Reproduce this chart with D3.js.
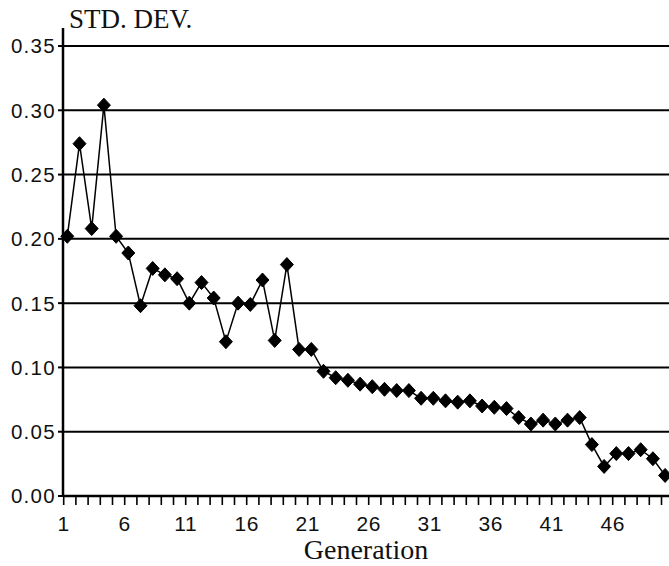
<!DOCTYPE html>
<html>
<head>
<meta charset="utf-8">
<script src="https://cdn.jsdelivr.net/npm/d3@7"></script>
<style>
  body { margin: 0; background: #fff; }
</style>
</head>
<body>
<div id="chart"></div>
<script>
var generations = d3.range(1, 51);
var std_dev = [
    0.202, 0.274, 0.208, 0.304, 0.202, 0.189, 0.148, 0.177, 0.172, 0.169,
    0.150, 0.166, 0.154, 0.120, 0.150, 0.149, 0.168, 0.121, 0.180, 0.114,
    0.114, 0.097, 0.092, 0.090, 0.087, 0.085, 0.083, 0.082, 0.082, 0.076,
    0.076, 0.074, 0.073, 0.074, 0.070, 0.069, 0.068, 0.061, 0.056, 0.059,
    0.056, 0.059, 0.061, 0.040, 0.023, 0.033, 0.033, 0.036, 0.029, 0.016
];
var y_ticks = [0, 0.05, 0.10, 0.15, 0.20, 0.25, 0.30, 0.35];
var x_labels = [1, 6, 11, 16, 21, 26, 31, 36, 41, 46];

var chart_width = 669;
var chart_height = 566;
var left = 63;
var bottom = 496;
var point_shift = 3.6;

var svg = d3.select('#chart')
    .append('svg')
    .attr('width', chart_width)
    .attr('height', chart_height);

// escalas
var x_scale = d3.scaleLinear()
    .domain([1, 50])
    .range([left + 0.7, left + 0.7 + 49 * 12.2]);

var y_scale = d3.scaleLinear()
    .domain([0, 0.35])
    .range([bottom, 46]);

// grade horizontal
svg.selectAll('line.grid')
    .data(y_ticks.slice(1))
    .enter()
    .append('line')
    .attr('class', 'grid')
    .attr('x1', left)
    .attr('x2', chart_width)
    .attr('y1', function (d) { return y_scale(d); })
    .attr('y2', function (d) { return y_scale(d); })
    .attr('stroke', '#000')
    .attr('stroke-width', 2);

// eixo y
svg.append('line')
    .attr('x1', left).attr('x2', left)
    .attr('y1', 28).attr('y2', bottom + 1)
    .attr('stroke', '#000')
    .attr('stroke-width', 2.5);

svg.selectAll('line.ytick')
    .data(y_ticks)
    .enter()
    .append('line')
    .attr('class', 'ytick')
    .attr('x1', left - 5).attr('x2', left)
    .attr('y1', function (d) { return y_scale(d); })
    .attr('y2', function (d) { return y_scale(d); })
    .attr('stroke', '#000')
    .attr('stroke-width', 2);

svg.selectAll('text.ylabel')
    .data(y_ticks)
    .enter()
    .append('text')
    .attr('class', 'ylabel')
    .text(function (d) { return d3.format('.2f')(d); })
    .attr('x', 56)
    .attr('y', function (d) { return y_scale(d); })
    .attr('dy', '0.36em')
    .attr('text-anchor', 'end')
    .attr('font-family', '"Liberation Sans", Arial, sans-serif')
    .attr('font-size', 20.5)
    .attr('letter-spacing', 1.3)
    .attr('fill', '#111');

// eixo x
svg.append('line')
    .attr('x1', left).attr('x2', chart_width)
    .attr('y1', bottom).attr('y2', bottom)
    .attr('stroke', '#000')
    .attr('stroke-width', 2.5);

svg.selectAll('line.xtick')
    .data(generations)
    .enter()
    .append('line')
    .attr('class', 'xtick')
    .attr('x1', function (d) { return x_scale(d); })
    .attr('x2', function (d) { return x_scale(d); })
    .attr('y1', bottom)
    .attr('y2', bottom + 9)
    .attr('stroke', '#000')
    .attr('stroke-width', 1.6);

svg.selectAll('text.xlabel')
    .data(x_labels)
    .enter()
    .append('text')
    .attr('class', 'xlabel')
    .text(function (d) { return d; })
    .attr('x', function (d) { return x_scale(d); })
    .attr('y', 531)
    .attr('text-anchor', 'middle')
    .attr('font-family', '"Liberation Sans", Arial, sans-serif')
    .attr('font-size', 21)
    .attr('letter-spacing', 0.5)
    .attr('fill', '#111');

// titulos
svg.append('text')
    .text('STD. DEV.')
    .attr('x', 69)
    .attr('y', 28)
    .attr('font-family', '"Liberation Serif", "Times New Roman", serif')
    .attr('font-size', 27)
    .attr('fill', '#111');

svg.append('text')
    .text('Generation')
    .attr('x', 366)
    .attr('y', 559)
    .attr('text-anchor', 'middle')
    .attr('font-family', '"Liberation Serif", "Times New Roman", serif')
    .attr('font-size', 28)
    .attr('fill', '#111');

// linha
var line = d3.line()
    .x(function (d, i) { return x_scale(generations[i]) + point_shift; })
    .y(function (d) { return y_scale(d); });

svg.append('path')
    .datum(std_dev)
    .attr('d', line)
    .attr('fill', 'none')
    .attr('stroke', '#000')
    .attr('stroke-width', 1.5);

// marcadores (losango)
var diamond = {
    draw: function (ctx, size) {
        var w = 6.5, h = 7;
        ctx.moveTo(0, -h);
        ctx.lineTo(w, 0);
        ctx.lineTo(0, h);
        ctx.lineTo(-w, 0);
        ctx.closePath();
    }
};

svg.selectAll('path.marker')
    .data(std_dev)
    .enter()
    .append('path')
    .attr('class', 'marker')
    .attr('d', d3.symbol().type(diamond))
    .attr('transform', function (d, i) {
        return 'translate(' + (x_scale(generations[i]) + point_shift) + ',' + y_scale(d) + ')';
    })
    .attr('fill', '#000')
    .attr('stroke', '#000')
    .attr('stroke-width', 1);
</script>
</body>
</html>
